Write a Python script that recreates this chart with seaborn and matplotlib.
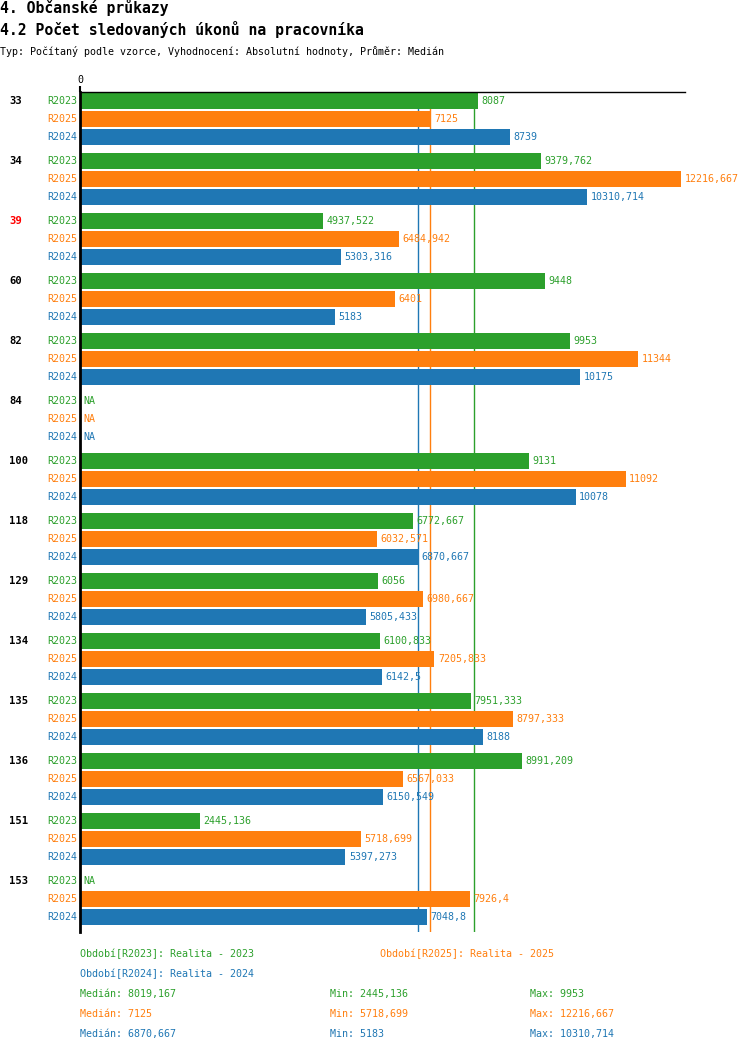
import numpy as np
import pandas as pd
import matplotlib
matplotlib.use("Agg")
import matplotlib.pyplot as plt
import matplotlib.transforms as mtransforms
import seaborn as sns

groups = ["33", "34", "39", "60", "82", "84", "100", "118", "129", "134", "135", "136", "151", "153"]
periods = ["R2023", "R2025", "R2024"]
r2023 = [8087, 9379.762, 4937.522, 9448, 9953, np.nan, 9131, 6772.667, 6056, 6100.833, 7951.333, 8991.209, 2445.136, np.nan]
r2025 = [7125, 12216.667, 6484.942, 6401, 11344, np.nan, 11092, 6032.571, 6980.667, 7205.833, 8797.333, 6567.033, 5718.699, 7926.4]
r2024 = [8739, 10310.714, 5303.316, 5183, 10175, np.nan, 10078, 6870.667, 5805.433, 6142.5, 8188, 6150.549, 5397.273, 7048.8]
highlight = ["39"]
colors = {"R2023": "#2ca02c", "R2025": "#ff7f0e", "R2024": "#1f77b4"}
legend_names = {"R2023": "Období[R2023]: Realita - 2023",
                "R2025": "Období[R2025]: Realita - 2025",
                "R2024": "Období[R2024]: Realita - 2024"}
stats_order = ["R2023", "R2025", "R2024"]
medians = {"R2023": "8019,167", "R2025": "7125", "R2024": "6870,667"}
mins = {"R2023": "2445,136", "R2025": "5718,699", "R2024": "5183"}
maxs = {"R2023": "9953", "R2025": "12216,667", "R2024": "10310,714"}
median_vals = {"R2023": 8019.167, "R2025": 7125, "R2024": 6870.667}

series = {"R2023": r2023, "R2025": r2025, "R2024": r2024}
rows = []
for p in periods:
    for g, v in zip(groups, series[p]):
        rows.append({"group": g, "period": p, "value": v})
df = pd.DataFrame(rows)

sns.set_style("white")
plt.rcParams["font.family"] = ["DejaVu Sans Mono", "DejaVu Sans"]
plt.rcParams["text.color"] = "black"
plt.rcParams["xtick.color"] = "black"
plt.rcParams["xtick.labelcolor"] = "black"

W, H = 750, 1052
fig = plt.figure(figsize=(W / 100, H / 100), dpi=100)
ax = fig.add_axes([80 / W, 1 - 932 / H, 605 / W, 840 / H])

sns.barplot(data=df, y="group", x="value", hue="period", order=groups,
            hue_order=periods, palette=colors, orient="h", width=0.9,
            gap=0.111, dodge=True, errorbar=None, legend=False,
            saturation=1, linewidth=0, ax=ax, zorder=2)

for p in periods:
    ax.axvline(median_vals[p], color=colors[p], lw=1, zorder=1)

ax.set_xlim(0, 12300)
ax.set_ylim(len(groups) - 0.45, -0.45)

def fmt(v):
    s = f"{v:.3f}".rstrip("0").rstrip(".")
    return s.replace(".", ",")

fs = 7.2
tr_left = mtransforms.blended_transform_factory(fig.transFigure, ax.transData)
for i, g in enumerate(groups):
    for j, p in enumerate(periods):
        y = i + (j - 1) * 0.3
        v = series[p][i]
        if np.isnan(v):
            txt, xv = "NA", 0
        else:
            txt, xv = fmt(v), v
        ax.annotate(txt, xy=(xv, y), xytext=(2.5, 0), textcoords="offset points",
                    ha="left", va="center", fontsize=fs, color=colors[p], zorder=3)
        ax.text(77 / W, y, p, transform=tr_left, ha="right", va="center",
                fontsize=fs, color=colors[p])
    ax.text(9 / W, i - 0.3, g, transform=tr_left, ha="left", va="center",
            fontsize=7.6, fontweight="bold",
            color="red" if g in highlight else "black")

ax.set_ylabel("")
ax.set_xlabel("")
ax.set_yticks([])
ax.xaxis.tick_top()
ax.set_xticks([0])
ax.set_xticklabels(["0"], fontsize=fs)
ax.tick_params(axis="x", length=4, width=1.5, pad=1, colors="black")
for s in ["right", "bottom"]:
    ax.spines[s].set_visible(False)
ax.spines["left"].set_linewidth(2)
ax.spines["left"].set_color("black")
ax.spines["top"].set_linewidth(1)
ax.spines["top"].set_color("black")

fig.text(0, 1 - 13.5 / H, "4. Občanské průkazy", fontsize=10.6, va="baseline", ha="left",
         color="black", fontweight="semibold")
fig.text(0, 1 - 35 / H, "4.2 Počet sledovaných úkonů na pracovníka", fontsize=10.6,
         va="baseline", ha="left", color="black", fontweight="semibold")
fig.text(0, 1 - 55 / H, "Typ: Počítaný podle vzorce, Vyhodnocení: Absolutní hodnoty, Průměr: Medián",
         fontsize=7.2, va="baseline", ha="left", color="black")

fig.text(80 / W, 1 - 954 / H, legend_names["R2023"], color=colors["R2023"], fontsize=fs, va="center")
fig.text(380 / W, 1 - 954 / H, legend_names["R2025"], color=colors["R2025"], fontsize=fs, va="center")
fig.text(80 / W, 1 - 974 / H, legend_names["R2024"], color=colors["R2024"], fontsize=fs, va="center")
for k, p in enumerate(stats_order):
    yy = 1 - (994 + 20 * k) / H
    fig.text(80 / W, yy, "Medián: " + medians[p], color=colors[p], fontsize=fs, va="center")
    fig.text(330 / W, yy, "Min: " + mins[p], color=colors[p], fontsize=fs, va="center")
    fig.text(530 / W, yy, "Max: " + maxs[p], color=colors[p], fontsize=fs, va="center")

fig.savefig("out.png", dpi=100)
